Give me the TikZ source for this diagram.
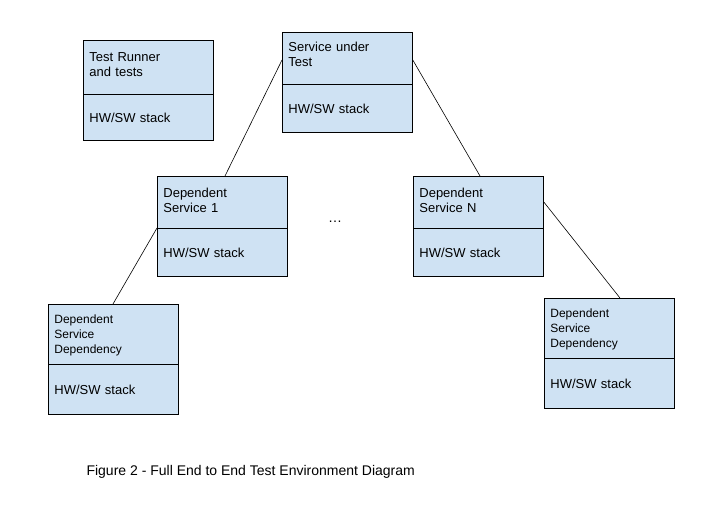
\documentclass[tikz,border=0pt]{standalone}
\usepackage{fontspec}
\setmainfont{Liberation Sans}
\begin{document}
\begin{tikzpicture}[x=1pt,y=-1pt,
	box/.style={draw, thick, fill=boxblue, anchor=north west, align=left,
		text width=#1-12pt, inner sep=6pt, font=\fontsize{13}{15}\selectfont},
	part/.style={box=130pt, minimum height=50pt},
	link/.style={draw, semithick}]
	\definecolor{boxblue}{HTML}{CFE2F3}
	\useasboundingbox (0,0) rectangle (726,520);
	% test runner
	\node[part, minimum height=54pt, text depth=20pt] (runT) at (83,40) {Test Runner\\and tests};
	\node[part, minimum height=46pt] (runB) at (83,94) {HW/SW stack};
	% service under test
	\node[part, minimum height=52pt, text depth=24pt] (sutT) at (282,32) {Service under\\Test};
	\node[part, minimum height=48pt] (sutB) at (282,84) {HW/SW stack};
	% dependent services
	\node[part, minimum height=52pt, text depth=20pt] (dep1T) at (157,176) {Dependent\\Service 1};
	\node[part, minimum height=48pt] (dep1B) at (157,228) {HW/SW stack};
	\node[part, minimum height=52pt, text depth=20pt] (depNT) at (413,176) {Dependent\\Service N};
	\node[part, minimum height=48pt] (depNB) at (413,228) {HW/SW stack};
	\node at (335,222) {\fontsize{14}{16}\selectfont\dots};
	% dependencies of the dependent services
	\node[part, minimum height=60pt, text depth=30pt, font=\fontsize{12}{15}\selectfont] (ddLT) at (48,304) {Dependent\\Service\\Dependency};
	\node[part, minimum height=50pt] (ddLB) at (48,364) {HW/SW stack};
	\node[part, minimum height=60pt, text depth=30pt, font=\fontsize{12}{15}\selectfont] (ddRT) at (544,298) {Dependent\\Service\\Dependency};
	\node[part, minimum height=50pt] (ddRB) at (544,358) {HW/SW stack};
	% connectors
	\coordinate (sutL) at ([yshift=-28pt]sutT.north west);
	\coordinate (sutR) at ([yshift=-28pt]sutT.north east);
	\draw[link] (sutL) -- ([xshift=68pt]dep1T.north west);
	\draw[link] (sutR) -- ([xshift=67pt]depNT.north west);
	\draw[link] (dep1B.north west) -- ([xshift=65pt]ddLT.north west);
	\draw[link] ([yshift=-26pt]depNT.north east) -- ([xshift=76pt]ddRT.north west);
	% caption
	\node[anchor=west, font=\fontsize{14}{16}\selectfont] (cap) at (83,472) {Figure 2 - Full End to End Test Environment Diagram};
\end{tikzpicture}
\end{document}
